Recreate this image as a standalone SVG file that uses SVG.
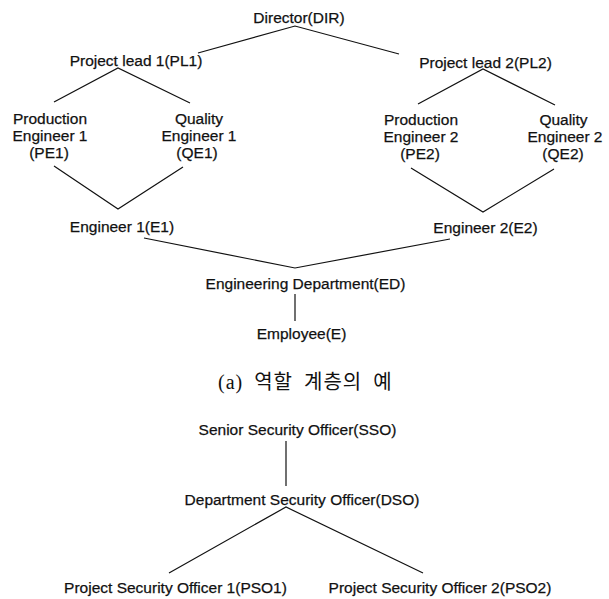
<svg xmlns="http://www.w3.org/2000/svg" width="609" height="599" viewBox="0 0 609 599">
<style>
.t{font-family:"Liberation Sans",Arial,sans-serif;font-size:15.5px;fill:#111;stroke:#111;stroke-width:0.25;text-anchor:middle}
.cap{font-family:"Liberation Serif","Noto Sans CJK KR",serif;font-size:20px;fill:#111;letter-spacing:1px;word-spacing:5px}
.c{fill:none;stroke:#111;stroke-width:1.2}
</style>
<rect width="609" height="599" fill="#fff"/>
<g id="connectors">
<polyline class="c" points="198,53 295,26 399,54"/>
<polyline class="c" points="54,102 118,68 190,103"/>
<polyline class="c" points="418,104 483,69 555,105"/>
<polyline class="c" points="54,166 118,209 183,167"/>
<polyline class="c" points="411,168 483,212 554,169"/>
<polyline class="c" points="144,238 295,268 450,239"/>
<line class="c" x1="295" y1="294" x2="295" y2="321"/>
<line class="c" x1="286" y1="441" x2="286" y2="486"/>
<polyline class="c" points="169,573 286,507 423,573"/>
</g>
<g id="DIR"><text class="t" x="299" y="23">Director(DIR)</text></g>
<g id="PL1"><text class="t" x="136" y="66">Project lead 1(PL1)</text></g>
<g id="PL2"><text class="t" x="485.5" y="68">Project lead 2(PL2)</text></g>
<g id="PE1"><text class="t" x="50" y="124">Production<tspan x="50" y="141">Engineer 1</tspan><tspan x="49" y="158">(PE1)</tspan></text></g>
<g id="QE1"><text class="t" x="199" y="124">Quality<tspan x="199" y="141">Engineer 1</tspan><tspan x="197" y="158">(QE1)</tspan></text></g>
<g id="PE2"><text class="t" x="421" y="125">Production<tspan x="421" y="142">Engineer 2</tspan><tspan x="420" y="159">(PE2)</tspan></text></g>
<g id="QE2"><text class="t" x="563.5" y="125">Quality<tspan x="565" y="142">Engineer 2</tspan><tspan x="563" y="159">(QE2)</tspan></text></g>
<g id="E1"><text class="t" x="122" y="232">Engineer 1(E1)</text></g>
<g id="E2"><text class="t" x="485.5" y="233">Engineer 2(E2)</text></g>
<g id="ED"><text class="t" x="305.5" y="289">Engineering Department(ED)</text></g>
<g id="E"><text class="t" x="301.5" y="339">Employee(E)</text></g>
<g id="caption-a"><text class="cap" x="218" y="389">(a) 역할 계층의 예</text></g>
<g id="SSO"><text class="t" x="297.5" y="435">Senior Security Officer(SSO)</text></g>
<g id="DSO"><text class="t" x="302" y="505">Department Security Officer(DSO)</text></g>
<g id="PSO1"><text class="t" x="175.5" y="593">Project Security Officer 1(PSO1)</text></g>
<g id="PSO2"><text class="t" x="440" y="593">Project Security Officer 2(PSO2)</text></g>
</svg>
